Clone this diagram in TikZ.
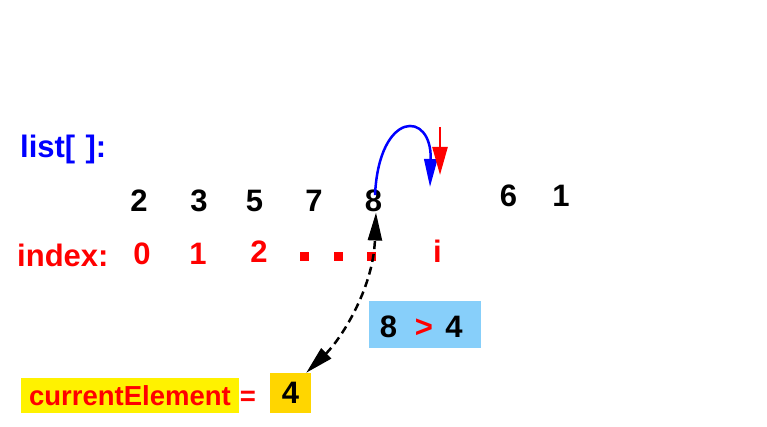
\documentclass[tikz,border=0pt]{standalone}
\usepackage{xcolor}
\usepackage{fontspec}
\setmainfont{Liberation Sans}
\usepackage{tikz}
\usetikzlibrary{positioning, calc, arrows.meta}
\definecolor{skyboxblue}{rgb}{0.53, 0.81, 0.98}
\definecolor{goldbox}{rgb}{1.0, 0.84, 0.0}

\begin{document}
\begin{tikzpicture}[x=1pt, y=-1pt,
		bigfont/.style={font=\fontsize{31}{36}\selectfont\bfseries},
		num/.style={bigfont, inner sep=0pt, anchor=base, text=black},
		idx/.style={bigfont, inner sep=0pt, anchor=base, text=red},
		dotbox/.style={fill=red, minimum size=9pt, inner sep=0pt},
		>={Triangle[length=28pt, width=14pt]}]
		\useasboundingbox (0,0) rectangle (767,427);
		
		\node[bigfont, text=blue, inner sep=0pt, anchor=base west] (listlabel) at (20,158) {list[\,\,]:};
		
		% values of the list
		\node[num] (v0) at (139,212) {2};
		\node[num] (v1) at (199,212) {3};
		\node[num] (v2) at (254.5,212) {5};
		\node[num] (v3) at (314,212) {7};
		\node[num] (v4) at (373.5,212) {8};
		\node[num] (v5) at (508.5,207) {6};
		\node[num] (v6) at (561,207) {1};
		
		% indices
		\node[idx, anchor=base west] (indexlabel) at (17,266) {index:};
		\node[idx] (i0) at (142,265) {0};
		\node[idx] (i1) at (198,265) {1};
		\node[idx] (i2) at (259,262) {2};
		\node[dotbox] (d1) at (304.5,256.5) {};
		\node[dotbox] (d2) at (338,256.5) {};
		\node[dotbox] (d3) at (371.5,256.5) {};
		\node[idx] (ii) at (437.5,262) {i};
		
		\coordinate (hole) at (430,187);
		\coordinate (redtop) at (440,127);
		\coordinate (redtip) at (440,175);
		\draw[blue, line width=2.5pt, ->, >={Triangle[length=28pt, width=13pt]}] ([xshift=1.5pt,yshift=-5pt]v4.north) .. controls (379,110) and (432,110) .. (hole);
		\draw[red, line width=2.5pt, ->, >={Triangle[length=28pt, width=15pt]}] (redtop) -- (redtip);
		
		% comparison and current element
		\node[fill=skyboxblue, minimum width=112pt, minimum height=47pt, inner sep=0pt] (cmp) at (425,324.5) {};
		\node[num] (c8) at (388.5,337) {8};
		\node[idx] (cgt) at (424,337) {>};
		\node[num] (c4) at (454,337) {4};
		\node[fill=yellow, minimum width=218pt, minimum height=35pt, inner sep=0pt, text=red, font=\fontsize{27.5}{32}\selectfont\bfseries] (curlabel) at (130,395.5) {currentElement};
		\node[text=red, inner sep=0pt, anchor=base, font=\fontsize{27.5}{32}\selectfont\bfseries] (eq) at (248,405) {=};
		\node[fill=goldbox, minimum width=41pt, minimum height=40pt, inner sep=0pt, bigfont] (cur) at (290.5,393) {4};
		
		\draw[<->, line width=2.5pt, dash pattern=on 8pt off 5pt] ([xshift=-5pt]cur.north east) .. controls (340,340) and (373,290) .. ([xshift=2.5pt]v4.south);
		\end{tikzpicture}
\end{document}
